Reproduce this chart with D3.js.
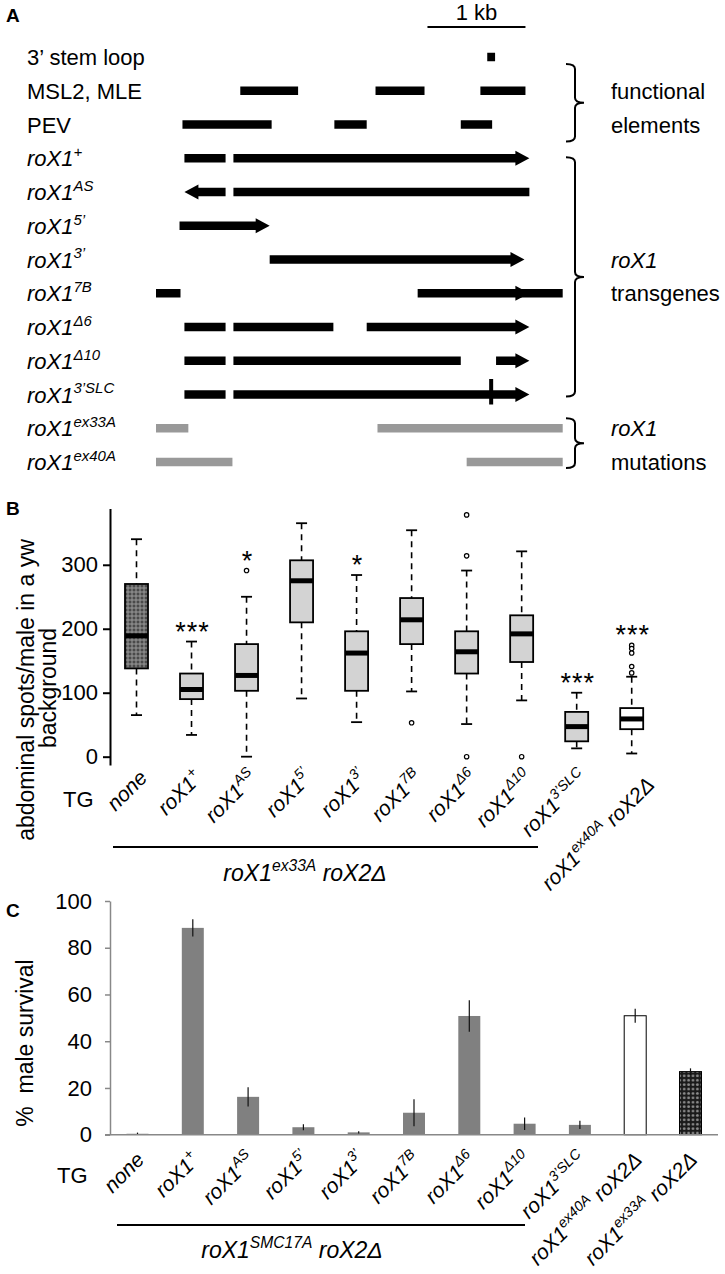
<!DOCTYPE html>
<html><head><meta charset="utf-8">
<script src="https://cdn.jsdelivr.net/npm/d3@7"></script>
<style>body{margin:0;background:#fff}svg{display:block}text{font-family:"Liberation Sans",Arial,sans-serif;fill:#000}</style>
</head><body><svg id="fig" width="725" height="1274"></svg>
<script>
// ===== Panel A data (positions in kb from the left end of the map) =====
const mapRows = ["3’ stem loop","MSL2, MLE","PEV","roX1^{+}","roX1^{AS}","roX1^{5’}","roX1^{3’}","roX1^{7B}","roX1^{Δ6}","roX1^{Δ10}","roX1^{3’SLC}","roX1^{ex33A}","roX1^{ex40A}"];
const mapRowItalic = [false,false,false,true,true,true,true,true,true,true,true,true,true];
// [row, start kb, end kb, kind]
const mapSegments = [
  [0,3.38,3.46,"bar"],
  [1,0.86,1.45,"bar"],[1,2.24,2.74,"bar"],[1,3.31,3.77,"bar"],
  [2,0.27,1.18,"bar"],[2,1.82,2.15,"bar"],[2,3.11,3.43,"bar"],
  [3,0.29,0.71,"bar"],[3,0.79,3.81,"right"],
  [4,0.29,0.71,"left"],[4,0.79,3.81,"bar"],
  [5,0.24,1.16,"right"],
  [6,1.16,3.76,"right"],
  [7,0.00,0.25,"bar"],[7,2.67,3.81,"right"],[7,3.70,4.15,"bar"],
  [8,0.29,0.71,"bar"],[8,0.79,1.81,"bar"],[8,2.15,3.81,"right"],
  [9,0.29,0.71,"bar"],[9,0.79,3.11,"bar"],[9,3.47,3.81,"right"],
  [10,0.29,0.71,"bar"],[10,0.79,3.81,"right"],
  [11,0.00,0.33,"grey"],[11,2.26,4.15,"grey"],
  [12,0.00,0.78,"grey"],[12,3.17,4.15,"grey"]
];
const mapTicks = [[10,3.42]];           // 3' stem-loop change mark
const scaleBarKb = [2.77,3.77];          // 1 kb scale bar
const braceRows = [[0,2],[3,10],[11,12]];
const braceText = [["functional",1,false],["elements",2,false],["roX1",6,true],["transgenes",7,false],["roX1",11,true],["mutations",12,false]];

// ===== Panel B data (abdominal spots per male) =====
const boxCats = ["none","roX1^{+}","roX1^{AS}","roX1^{5’}","roX1^{3’}","roX1^{7B}","roX1^{Δ6}","roX1^{Δ10}","roX1^{3’SLC}","roX1^{ex40A} roX2Δ"];
const boxLow    = [65, 34,   0,  91,  54, 102,  51,  88,  13,   5];
const boxQ1     = [138, 90, 103, 210, 103, 176, 130, 148,  24,  43];
const boxMedian = [189,105, 127, 275, 162, 214, 164, 192,  47,  59];
const boxQ3     = [270,130, 176, 307, 196, 248, 196, 221,  70,  76];
const boxHigh   = [340,180, 250, 365, 284, 354, 291, 321, 100, 125];
const boxOutliers = [[],[],[291],[],[],[53],[378,314,0],[0],[],[174,169,162,141,131]];
const boxStars  = ["","***","*","","*","","","","***","***"];
const boxFill   = ["pattern","grey","grey","grey","grey","grey","grey","grey","grey","white"];
const boxYTicks = [0,100,200,300];

// ===== Panel C data (% male survival) =====
const survCats = ["none","roX1^{+}","roX1^{AS}","roX1^{5’}","roX1^{3’}","roX1^{7B}","roX1^{Δ6}","roX1^{Δ10}","roX1^{3’SLC}","roX1^{ex40A} roX2Δ","roX1^{ex33A} roX2Δ"];
const survMean = [0.4, 88.5, 16.2, 3.2, 1.0, 9.4, 50.8, 4.7, 4.2, 50.9, 27.0];
const survErr  = [0.5,  3.7,  4.1, 1.3, 0.5, 5.8,  6.7, 2.7, 1.8,  3.0,  1.4];
const survFill = ["grey","grey","grey","grey","grey","grey","grey","grey","grey","white","pattern"];
const survYTicks = [0,20,40,60,80,100];

// ===== helpers =====
const svg = d3.select("#fig");
const FONT = 22;

function rich(textSel, str, fs, italic) {
  textSel.attr("font-size", fs).attr("font-style", italic ? "italic" : "normal");
  const parts = str.split(/(\^\{[^}]*\})/).filter(s => s.length);
  let up = false;
  parts.forEach(p => {
    if (p.startsWith("^{")) {
      textSel.append("tspan").attr("dy", -0.42 * fs).attr("font-size", fs * 0.68).text(p.slice(2, -1));
      up = true;
    } else {
      const t = textSel.append("tspan").text(p);
      if (up) { t.attr("dy", 0.42 * fs); up = false; }
    }
  });
  return textSel;
}

const defs = svg.append("defs");
const pb = defs.append("pattern").attr("id","gridB").attr("patternUnits","userSpaceOnUse").attr("width",4).attr("height",4);
pb.append("rect").attr("width",4).attr("height",4).attr("fill","#9a9a9a");
pb.append("rect").attr("x",0.5).attr("y",0.5).attr("width",3).attr("height",3).attr("fill","#4a4a4a");
const pc = defs.append("pattern").attr("id","dotC").attr("patternUnits","userSpaceOnUse").attr("width",4.4).attr("height",4.4);
pc.append("rect").attr("width",4.4).attr("height",4.4).attr("fill","#1a1a1a");
pc.append("circle").attr("cx",2.2).attr("cy",2.2).attr("r",1.4).attr("fill","#8c8c8c");

// ===== Panel A =====
svg.append("text").attr("x",6).attr("y",22).attr("font-size",19).attr("font-weight","bold").text("A");
const xKb = d3.scaleLinear().domain([0,1]).range([156,254]);
const yRow = d3.scalePoint().domain(d3.range(mapRows.length)).range([57,462]);
const gA = svg.append("g");

gA.append("line").attr("x1",xKb(scaleBarKb[0])).attr("x2",xKb(scaleBarKb[1])).attr("y1",27).attr("y2",27).attr("stroke","#000").attr("stroke-width",2);
gA.append("text").attr("x",(xKb(scaleBarKb[0])+xKb(scaleBarKb[1]))/2).attr("y",20).attr("text-anchor","middle").attr("font-size",FONT).text("1 kb");

mapRows.forEach((r,i) => {
  rich(gA.append("text").attr("x",27).attr("y",yRow(i)+8), r, FONT, mapRowItalic[i]);
});

const h = 8.5, H = 15, hl = 14;
mapSegments.forEach(([r,s,e,kind]) => {
  const y = yRow(r), x0 = xKb(s), x1 = xKb(e);
  let d;
  if (kind === "right") {
    d = `M${x0},${y-h/2}L${x1-hl},${y-h/2}L${x1-hl},${y-H/2}L${x1},${y}L${x1-hl},${y+H/2}L${x1-hl},${y+h/2}L${x0},${y+h/2}Z`;
  } else if (kind === "left") {
    d = `M${x1},${y-h/2}L${x0+hl},${y-h/2}L${x0+hl},${y-H/2}L${x0},${y}L${x0+hl},${y+H/2}L${x0+hl},${y+h/2}L${x1},${y+h/2}Z`;
  } else {
    d = `M${x0},${y-h/2}L${x1},${y-h/2}L${x1},${y+h/2}L${x0},${y+h/2}Z`;
  }
  gA.append("path").attr("d",d).attr("fill", kind === "grey" ? "#999" : "#000");
});
mapTicks.forEach(([r,p]) => {
  gA.append("rect").attr("x",xKb(p)-2).attr("y",yRow(r)-15.5).attr("width",4).attr("height",25.5).attr("fill","#000");
});

const bracePad = [[7,17],[-1,2],[-10,6]];
braceRows.forEach(([a,b],i) => {
  const top = yRow(a)+bracePad[i][0], bot = yRow(b)+bracePad[i][1], mid = (top+bot)/2;
  const xl = 566, xm = 575, xt = 584, r = 5;
  const d = `M${xl},${top}Q${xm},${top} ${xm},${top+r}L${xm},${mid-r}Q${xm},${mid} ${xt},${mid}Q${xm},${mid} ${xm},${mid+r}L${xm},${bot-r}Q${xm},${bot} ${xl},${bot}`;
  gA.append("path").attr("d",d).attr("fill","none").attr("stroke","#000").attr("stroke-width",2);
});
braceText.forEach(([t,row,it]) => {
  gA.append("text").attr("x",611).attr("y",yRow(row)+8).attr("font-size",FONT).attr("font-style",it?"italic":"normal").text(t);
});

// ===== Panel B =====
svg.append("text").attr("x",6).attr("y",515).attr("font-size",19).attr("font-weight","bold").text("B");
const gB = svg.append("g");
const yB = d3.scaleLinear().domain([-13,388]).range([765,508.5]);
const xB = d3.scalePoint().domain(boxCats).range([136.5,631.7]);
const axB = gB.append("g").attr("transform","translate(110,0)")
  .call(d3.axisLeft(yB).tickValues(boxYTicks).tickSize(7).tickSizeOuter(0).tickPadding(5));
axB.select(".domain").attr("stroke","#000").attr("stroke-width",2);
axB.selectAll(".tick line").attr("stroke","#000").attr("stroke-width",2);
axB.selectAll(".tick text").attr("font-size",22).attr("font-family","Liberation Sans, Arial, sans-serif").attr("fill","#000");

const bw = 23, cap = 11;
boxCats.forEach((c,i) => {
  const cx = xB(c);
  const g = gB.append("g");
  g.append("line").attr("x1",cx).attr("x2",cx).attr("y1",yB(boxHigh[i])).attr("y2",yB(boxQ3[i])).attr("stroke","#000").attr("stroke-width",1.6).attr("stroke-dasharray","6,5");
  g.append("line").attr("x1",cx).attr("x2",cx).attr("y1",yB(boxQ1[i])).attr("y2",yB(boxLow[i])).attr("stroke","#000").attr("stroke-width",1.6).attr("stroke-dasharray","6,5");
  [boxHigh[i],boxLow[i]].forEach(v => g.append("line").attr("x1",cx-cap/2).attr("x2",cx+cap/2).attr("y1",yB(v)).attr("y2",yB(v)).attr("stroke","#000").attr("stroke-width",1.8));
  const fill = boxFill[i] === "pattern" ? "url(#gridB)" : boxFill[i] === "white" ? "#fff" : "#d3d3d3";
  g.append("rect").attr("x",cx-bw/2).attr("y",yB(boxQ3[i])).attr("width",bw).attr("height",yB(boxQ1[i])-yB(boxQ3[i])).attr("fill",fill).attr("stroke","#000").attr("stroke-width",1.8);
  g.append("line").attr("x1",cx-bw/2).attr("x2",cx+bw/2).attr("y1",yB(boxMedian[i])).attr("y2",yB(boxMedian[i])).attr("stroke","#000").attr("stroke-width",5);
  boxOutliers[i].forEach(v => g.append("circle").attr("cx",cx).attr("cy",yB(v)).attr("r",2.2).attr("fill","#fff").attr("stroke","#000").attr("stroke-width",1.2));
  if (boxStars[i]) {
    const top = d3.max([boxHigh[i], ...boxOutliers[i]]);
    g.append("text").attr("x",cx+1).attr("y",yB(top)-16+15).attr("text-anchor","middle").attr("font-size",27).attr("letter-spacing",1).text(boxStars[i]);
  }
  const ex = i === boxCats.length-1 ? 24 : 12;
  const ey = i === boxCats.length-1 ? 786 : 779;
  rich(gB.append("text").attr("text-anchor","end").attr("transform",`translate(${cx+ex},${ey}) rotate(-45)`), c, 21, true);
});
gB.append("text").attr("x",63).attr("y",807).attr("font-size",22).text("TG");
gB.append("line").attr("x1",113).attr("x2",538).attr("y1",847).attr("y2",847).attr("stroke","#000").attr("stroke-width",2);
rich(gB.append("text").attr("x",305).attr("y",881).attr("text-anchor","middle"), "roX1^{ex33A} roX2Δ", 23, true);
gB.append("text").attr("transform","translate(34,690) rotate(-90)").attr("text-anchor","middle").attr("font-size",23).text("abdominal spots/male in a yw");
gB.append("text").attr("transform","translate(56,688) rotate(-90)").attr("text-anchor","middle").attr("font-size",23).text("background");

// ===== Panel C =====
svg.append("text").attr("x",6).attr("y",917).attr("font-size",19).attr("font-weight","bold").text("C");
const gC = svg.append("g");
const yC = d3.scaleLinear().domain([0,100]).range([1134.7,901]);
const xC = d3.scalePoint().domain(survCats).range([137.5,690.5]);
const axC = gC.append("g").attr("transform","translate(110,0)")
  .call(d3.axisLeft(yC).tickValues(survYTicks).tickSize(5).tickSizeOuter(0).tickPadding(13));
axC.select(".domain").attr("stroke","#888").attr("stroke-width",1.5);
axC.selectAll(".tick line").attr("stroke","#888").attr("stroke-width",1.5);
axC.selectAll(".tick text").attr("font-size",22).attr("font-family","Liberation Sans, Arial, sans-serif").attr("fill","#000");
const cw = 22;
survCats.forEach((c,i) => {
  const cx = xC(c);
  const fill = survFill[i] === "pattern" ? "url(#dotC)" : survFill[i] === "white" ? "#fff" : "#808080";
  gC.append("rect").attr("x",cx-cw/2).attr("y",yC(survMean[i])).attr("width",cw).attr("height",yC(0)-yC(survMean[i]))
    .attr("fill",fill).attr("stroke", survFill[i] === "grey" ? "none" : "#000").attr("stroke-width",1);
  gC.append("line").attr("x1",cx).attr("x2",cx).attr("y1",yC(survMean[i]+survErr[i])).attr("y2",yC(Math.max(0,survMean[i]-survErr[i]))).attr("stroke","#111").attr("stroke-width",1.2);
  rich(gC.append("text").attr("text-anchor","end").attr("transform",`translate(${cx+8},${1161}) rotate(-45)`), c, 21, true);
});
gC.append("line").attr("x1",105).attr("x2",718).attr("y1",yC(0)).attr("y2",yC(0)).attr("stroke","#888").attr("stroke-width",1.5);
gC.append("text").attr("x",57).attr("y",1183).attr("font-size",22).text("TG");
gC.append("line").attr("x1",117).attr("x2",525).attr("y1",1225).attr("y2",1225).attr("stroke","#000").attr("stroke-width",2);
rich(gC.append("text").attr("x",292).attr("y",1258).attr("text-anchor","middle"), "roX1^{SMC17A} roX2Δ", 23, true);
gC.append("text").attr("transform","translate(33,1043) rotate(-90)").attr("text-anchor","middle").attr("font-size",23).style("white-space","pre").text("%  male survival");
</script></body></html>
